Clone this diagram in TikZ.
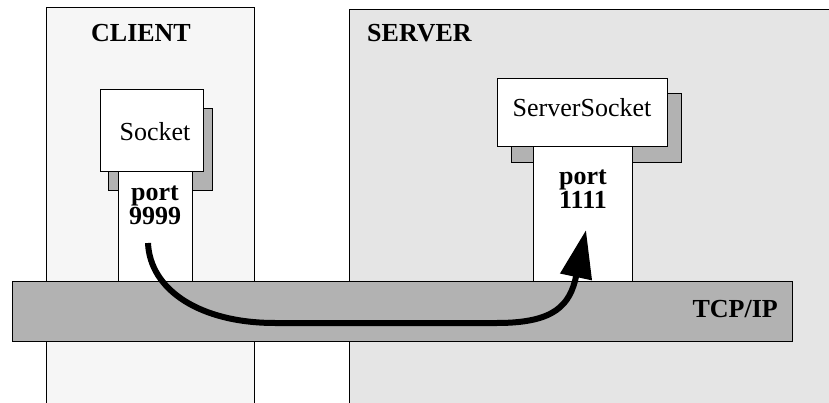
\documentclass[tikz,border=0pt]{standalone}
\usepackage{fontspec}
\setmainfont{Liberation Serif}
\usetikzlibrary{arrows.meta}
\definecolor{clientbg}{gray}{0.965}
\definecolor{serverbg}{gray}{0.9}
\definecolor{shadowgray}{gray}{0.7}
\begin{document}
\begin{tikzpicture}[x=1pt,y=-1pt,
  box/.style={draw=black, line width=0.9pt, inner sep=0pt, outer sep=0pt},
  lbl/.style={inner sep=0pt, font=\fontsize{26}{24}\selectfont},
  blbl/.style={inner sep=0pt, font=\fontsize{26}{24}\selectfont\bfseries}]
\useasboundingbox (0,0) rectangle (829,403);
\clip (0,0) rectangle (829,403);
\fill[white] (0,0) rectangle (829,403);
% machines
\node[box, fill=clientbg, minimum width=208pt, minimum height=413pt] (client) at (150,213.5) {};
\node[box, fill=serverbg, minimum width=501pt, minimum height=411pt] (server) at (599.5,214.5) {};
\node[blbl] (clienttxt) at (141,33) {CLIENT};
\node[blbl, anchor=west] (servertxt) at (367,33) {SERVER};
% client socket
\node[box, fill=shadowgray, minimum width=104pt, minimum height=82pt] (sockshadow) at (160,149) {};
\node[box, fill=white, minimum width=103pt, minimum height=82pt] (sock) at (151.5,130) {};
\node[lbl] (socktxt) at (155,132) {Socket};
\node[box, fill=white, minimum width=74pt, minimum height=110pt] (cport) at (155,226) {};
\node[blbl, align=center] (cporttxt) at (155,205) {port\\9999};
% server socket
\node[box, fill=shadowgray, minimum width=170pt, minimum height=69pt] (ssockshadow) at (596,127.5) {};
\node[box, fill=white, minimum width=170pt, minimum height=68pt] (ssock) at (582,112) {};
\node[lbl] (ssocktxt) at (582,108) {ServerSocket};
\node[box, fill=white, minimum width=99pt, minimum height=135pt] (sport) at (582.5,213.5) {};
\node[blbl, align=center] (sporttxt) at (583,189) {port\\1111};
% network bar
\node[box, fill=shadowgray, minimum width=780pt, minimum height=60pt] (tcp) at (402,311) {};
\node[blbl, anchor=east] (tcptxt) at (778,309) {TCP/IP};
% connection arrow
\coordinate (src) at (148,243);
\coordinate (dst) at (586,230);
\draw[line width=6pt, -{Triangle[length=48pt,width=31pt]}]
  (src) .. controls (150,290) and (200,323) .. (275,323)
  -- (497,323) .. controls (555,323) and (570,305) .. (dst);
\end{tikzpicture}
\end{document}
